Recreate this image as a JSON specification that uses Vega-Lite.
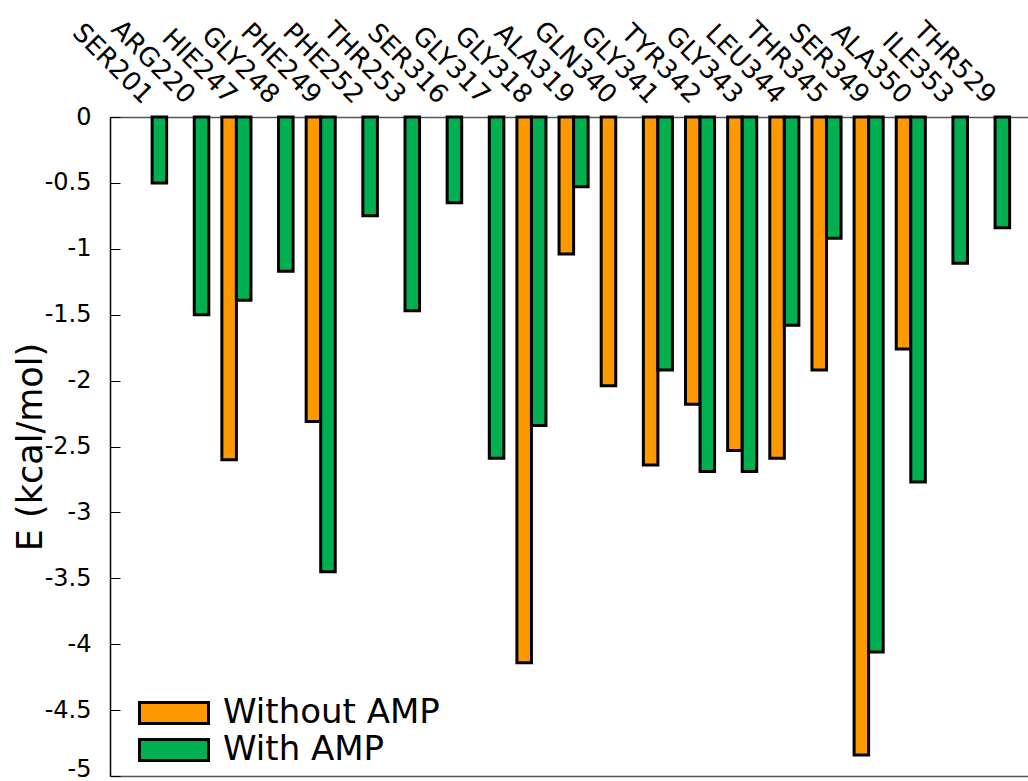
{
  "$schema": "https://vega.github.io/schema/vega-lite/v6.json",
  "autosize": {"type": "none"},
  "padding": {"left": 110, "top": 117, "right": 0, "bottom": 5},
  "width": 918,
  "height": 659,
  "background": "white",
  "config": {
    "view": {"stroke": null},
    "font": "DejaVu Sans"
  },
  "data": {
    "values": [
      {"residue": "HIE247", "series": "Without AMP", "E": -2.60},
      {"residue": "PHE249", "series": "Without AMP", "E": -2.31},
      {"residue": "GLY318", "series": "Without AMP", "E": -4.14},
      {"residue": "ALA319", "series": "Without AMP", "E": -1.04},
      {"residue": "GLN340", "series": "Without AMP", "E": -2.04},
      {"residue": "GLY341", "series": "Without AMP", "E": -2.64},
      {"residue": "TYR342", "series": "Without AMP", "E": -2.18},
      {"residue": "GLY343", "series": "Without AMP", "E": -2.53},
      {"residue": "LEU344", "series": "Without AMP", "E": -2.59},
      {"residue": "THR345", "series": "Without AMP", "E": -1.92},
      {"residue": "SER349", "series": "Without AMP", "E": -4.84},
      {"residue": "ALA350", "series": "Without AMP", "E": -1.76},
      {"residue": "SER201", "series": "With AMP", "E": -0.50},
      {"residue": "ARG220", "series": "With AMP", "E": -1.50},
      {"residue": "HIE247", "series": "With AMP", "E": -1.39},
      {"residue": "GLY248", "series": "With AMP", "E": -1.17},
      {"residue": "PHE249", "series": "With AMP", "E": -3.45},
      {"residue": "PHE252", "series": "With AMP", "E": -0.75},
      {"residue": "THR253", "series": "With AMP", "E": -1.47},
      {"residue": "SER316", "series": "With AMP", "E": -0.65},
      {"residue": "GLY317", "series": "With AMP", "E": -2.59},
      {"residue": "GLY318", "series": "With AMP", "E": -2.34},
      {"residue": "ALA319", "series": "With AMP", "E": -0.53},
      {"residue": "GLY341", "series": "With AMP", "E": -1.92},
      {"residue": "TYR342", "series": "With AMP", "E": -2.69},
      {"residue": "GLY343", "series": "With AMP", "E": -2.69},
      {"residue": "LEU344", "series": "With AMP", "E": -1.58},
      {"residue": "THR345", "series": "With AMP", "E": -0.92},
      {"residue": "SER349", "series": "With AMP", "E": -4.06},
      {"residue": "ALA350", "series": "With AMP", "E": -2.77},
      {"residue": "ILE353", "series": "With AMP", "E": -1.11},
      {"residue": "THR529", "series": "With AMP", "E": -0.84}
    ]
  },
  "mark": {"type": "bar", "stroke": "black", "strokeWidth": 3, "opacity": 1},
  "encoding": {
    "x": {
      "field": "residue",
      "type": "nominal",
      "sort": ["SER201","ARG220","HIE247","GLY248","PHE249","PHE252","THR253","SER316","GLY317","GLY318","ALA319","GLN340","GLY341","TYR342","GLY343","LEU344","THR345","SER349","ALA350","ILE353","THR529"],
      "scale": {
        "domain": ["SER201","ARG220","HIE247","GLY248","PHE249","PHE252","THR253","SER316","GLY317","GLY318","ALA319","GLN340","GLY341","TYR342","GLY343","LEU344","THR345","SER349","ALA350","ILE353","THR529"],
        "paddingInner": 0.31,
        "paddingOuter": 0.545,
        "align": 0.6
      },
      "axis": {
        "orient": "top",
        "title": null,
        "ticks": false,
        "labelAngle": 45,
        "labelAlign": "right",
        "labelBaseline": "middle",
        "labelFontSize": 26,
        "labelFont": "DejaVu Sans",
        "labelColor": "black",
        "labelPadding": 18,
        "labelOffset": -4,
        "labelOverlap": false,
        "labelLimit": 0,
        "domainColor": "#555555",
        "domainWidth": 1.5,
        "grid": false
      }
    },
    "xOffset": {
      "field": "series",
      "type": "nominal",
      "scale": {"domain": ["Without AMP", "With AMP"], "paddingInner": 0, "paddingOuter": 0}
    },
    "y": {
      "field": "E",
      "type": "quantitative",
      "scale": {"domain": [-5, 0], "nice": false, "zero": true},
      "axis": {
        "title": "E (kcal/mol)",
        "titleFont": "DejaVu Sans",
        "titleFontSize": 35,
        "titleFontWeight": "normal",
        "titleColor": "black",
        "titlePadding": -4,
        "values": [0, -0.5, -1, -1.5, -2, -2.5, -3, -3.5, -4, -4.5, -5],
        "labelExpr": "'' + datum.value",
        "labelFont": "DejaVu Sans",
        "labelFontSize": 24,
        "labelColor": "black",
        "labelPadding": 29,
        "labelOffset": {"condition": {"test": "datum.value == -5", "value": -7}, "value": 0},
        "tickSize": -10,
        "tickColor": "black",
        "tickWidth": 1,
        "domainColor": "black",
        "domainWidth": 1.5,
        "grid": true,
        "gridColor": "#555555",
        "gridWidth": 1.5,
        "gridOpacity": {"condition": {"test": "datum.value == -5", "value": 1}, "value": 0}
      }
    },
    "fill": {
      "field": "series",
      "type": "nominal",
      "scale": {"domain": ["Without AMP", "With AMP"], "range": ["#FF9900", "#00B050"]},
      "legend": {
        "title": null,
        "orient": "none",
        "legendX": 47,
        "legendY": 579,
        "padding": 0,
        "symbolType": "M-3.45,-1.05H3.45V1.05H-3.45Z",
        "symbolSize": 400,
        "symbolStrokeColor": "black",
        "symbolStrokeWidth": 3,
        "symbolOpacity": 1,
        "labelFont": "DejaVu Sans",
        "labelFontSize": 34,
        "labelColor": "black",
        "labelOffset": 32,
        "labelLimit": 0,
        "rowPadding": 3
      }
    }
  }
}
